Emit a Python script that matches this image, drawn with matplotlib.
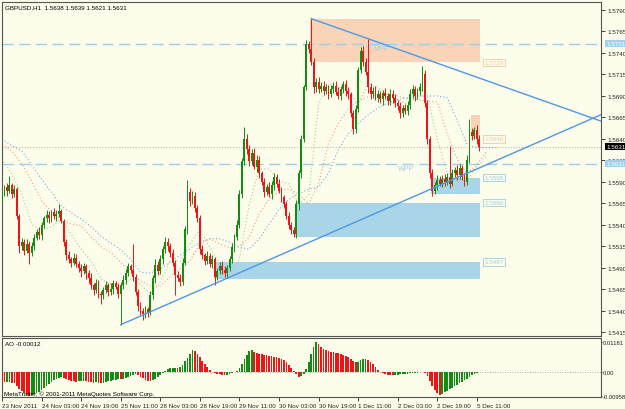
import numpy as np
import matplotlib
matplotlib.use("Agg")
import matplotlib.pyplot as plt
from matplotlib.patches import Rectangle

# hourly GBPUSD bars, prices in pips above 1.5400
first_open = 172
closes = [
    178, 184, 180, 186, 176, 182, 150, 115, 120, 110, 118, 108, 116, 125, 132, 128, 140, 148, 152, 148,
    155, 150, 153, 156, 145, 120, 105, 100, 96, 102, 95, 90, 86, 92, 84, 78, 70, 64, 72, 60,
    58, 64, 70, 62, 66, 72, 68, 60, 70, 76, 84, 92, 88, 80, 62, 46, 40, 36, 42, 38,
    58, 78, 94, 86, 100, 112, 120, 116, 108, 96, 82, 78, 74, 96, 135, 178, 168, 174, 160, 148,
    112, 105, 98, 104, 95, 100, 80, 86, 92, 88, 84, 90, 100, 114, 126, 140, 176, 214, 240, 228,
    214, 224, 208, 216, 200, 190, 178, 184, 176, 186, 196, 188, 180, 172, 164, 150, 140, 134, 130, 164,
    200, 240, 300, 350, 345, 330, 300, 306, 298, 302, 296, 300, 292, 298, 302, 295, 290, 298, 304, 296,
    292, 270, 252, 275, 320, 342, 330, 318, 300, 292, 296, 288, 292, 286, 294, 290, 284, 292, 288, 282,
    278, 270, 276, 272, 280, 292, 298, 290, 296, 300, 316, 282, 240, 200, 180, 186, 192, 188, 194, 190,
    196, 188, 200, 204, 198, 206, 196, 190, 215, 248, 244, 250, 240, 231,
]
up_wick = [
    4, 3, 5, 11, 3, 4, 2, 3, 5, 4, 6, 3, 4, 5, 3, 6, 4, 3, 5, 4,
    3, 5, 4, 8, 3, 2, 4, 5, 3, 6, 4, 3, 5, 4, 3, 4, 6, 3, 5, 4,
    3, 4, 5, 3, 6, 4, 3, 5, 4, 6, 5, 4, 3, 30, 3, 4, 5, 3, 4, 3,
    5, 4, 6, 4, 5, 4, 6, 5, 3, 4, 3, 4, 5, 6, 4, 14, 5, 6, 4, 3,
    4, 5, 3, 6, 4, 5, 3, 4, 5, 6, 4, 3, 4, 5, 4, 6, 5, 4, 14, 6,
    5, 4, 6, 5, 4, 3, 5, 4, 6, 5, 4, 3, 5, 4, 3, 4, 5, 3, 4, 5,
    4, 5, 3, 5, 4, 35, 4, 5, 6, 4, 5, 4, 3, 5, 4, 6, 5, 4, 3, 5,
    4, 3, 4, 5, 4, 5, 6, 4, 38, 5, 4, 6, 5, 4, 3, 5, 4, 6, 5, 4,
    3, 5, 4, 5, 4, 6, 5, 4, 3, 5, 9, 4, 3, 4, 5, 4, 6, 5, 4, 5,
    4, 36, 5, 4, 6, 5, 4, 5, 6, 15, 5, 4, 6, 5,
]
down_wick = [
    5, 4, 6, 3, 5, 4, 3, 8, 4, 5, 3, 13, 4, 5, 3, 4, 5, 3, 4, 6,
    4, 3, 5, 4, 3, 5, 6, 4, 5, 3, 4, 5, 6, 3, 7, 5, 4, 6, 3, 5,
    10, 4, 3, 5, 4, 6, 3, 5, 36, 4, 5, 3, 4, 5, 4, 6, 5, 6, 4, 5,
    3, 4, 5, 4, 3, 5, 4, 6, 5, 4, 24, 3, 5, 4, 3, 5, 6, 4, 5, 4,
    6, 4, 5, 3, 4, 5, 10, 4, 3, 5, 4, 6, 3, 4, 5, 4, 3, 5, 4, 6,
    5, 4, 3, 6, 5, 4, 5, 3, 4, 6, 5, 4, 3, 5, 4, 3, 5, 4, 4, 5,
    6, 5, 4, 3, 5, 4, 6, 5, 4, 3, 5, 4, 6, 3, 5, 4, 3, 5, 4, 6,
    5, 4, 6, 5, 4, 3, 5, 4, 6, 5, 4, 3, 5, 4, 6, 3, 5, 4, 6, 5,
    4, 6, 5, 3, 4, 5, 4, 6, 3, 5, 4, 5, 6, 5, 6, 4, 5, 3, 4, 5,
    4, 5, 3, 4, 6, 5, 4, 5, 4, 3, 5, 4, 6, 5,
]

# alligator lines, read every 4 bars (pips above 1.5400)
jaw = [240, 232, 226, 210, 193, 178, 162, 154, 147, 138, 127, 119, 111, 100, 85, 84, 89, 97, 105, 112,
       120, 124, 124, 120, 114, 112, 124, 141, 158, 170, 176, 182, 184, 200, 228, 246, 258, 268, 276, 282,
       286, 288, 290, 290, 290, 288, 262, 234, 230, 230, 230]
teeth = [234, 226, 211, 191, 168, 156, 147, 141, 139, 126, 115, 108, 97, 85, 75, 69, 69, 80, 89, 98,
         118, 124, 118, 114, 115, 126, 153, 170, 179, 182, 176, 164, 188, 235, 258, 275, 284, 289, 292, 292,
         290, 286, 286, 284, 283, 246, 217, 200, 210, 226]
lips = [217, 199, 176, 141, 133, 138, 147, 129, 112, 98, 77, 71, 68, 77, 71, 60, 74, 98, 98, 118,
        135, 114, 95, 86, 100, 164, 205, 205, 191, 188, 164, 175, 280, 305, 300, 298, 280, 305, 300, 292,
        286, 280, 290, 290, 240, 200, 192, 192, 208, 220]

# awesome oscillator, units of 0.0001
ao_vals = [
    -38, -42, -40, -39, -44, -46, -55, -68, -78, -86, -90, -95, -93, -90, -85, -80, -72, -64, -56, -48,
    -40, -34, -28, -24, -22, -25, -30, -33, -36, -38, -39, -38, -37, -36, -38, -40, -42, -44, -42, -44,
    -45, -43, -40, -38, -36, -33, -31, -30, -30, -28, -26, -22, -18, -12, -8, -14, -20, -26, -32, -36,
    -38, -34, -28, -20, -12, -4, 4, 10, 14, 16, 17, 15, 18, 28, 42, 56, 72, 86, 82, 72,
    58, 44, 30, 18, 8, -2, -6, -8, -10, -12, -14, -12, -10, -6, -2, 4, 14, 30, 50, 68,
    82, 86, 80, 76, 72, 70, 68, 66, 64, 62, 60, 58, 56, 52, 48, 40, 28, 14, 2, -10,
    -20, -18, -8, 10, 40, 70, 100, 118, 112, 100, 92, 88, 84, 80, 78, 76, 74, 72, 68, 64,
    60, 52, 44, 38, 40, 46, 50, 52, 48, 40, 30, 18, 6, -2, -6, -10, -12, -13, -14, -13,
    -12, -10, -9, -8, -7, -6, -5, -4, -3, -2, -2, -6, -18, -36, -56, -72, -86, -93, -90, -82,
    -76, -70, -64, -58, -52, -46, -40, -34, -28, -20, -14, -8, -4, -1,
]

time_labels = ["23 Nov 2011", "24 Nov 03:00", "24 Nov 19:00", "25 Nov 11:00", "28 Nov 03:00",
               "28 Nov 19:00", "29 Nov 11:00", "30 Nov 03:00", "30 Nov 19:00", "1 Dec 11:00",
               "2 Dec 03:00", "2 Dec 19:00", "5 Dec 11:00"]

# zones: (first bar, last bar, low, high)
supply_zones = [(125, 193, 1.5729, 1.5780), (190, 193, 1.5640, 1.5668)]
demand_zones = [(174, 193, 1.5576, 1.5595), (119, 193, 1.5526, 1.5566), (86, 193, 1.5477, 1.5497)]
zone_labels = [("1.5729", 1.5729, "peach"), ("1.5640", 1.5640, "peach"), ("1.5595", 1.5595, "blue"),
               ("1.5566", 1.5566, "blue"), ("1.5497", 1.5497, "blue")]

BG = "#fdfdeb"
GREEN = "#128c12"
RED = "#f01414"
PEACH = "#f9d4b6"
LBLUE = "#a9d5e8"
TREND = "#4d98e6"
PIVOT = "#9fcdee"
FS = 4.5

plt.rcParams["font.family"] = ["Liberation Sans", "DejaVu Sans"]

W, H = 625, 410


def box(x0, y0, x1, y1):
    return [x0 / W, 1 - y1 / H, (x1 - x0) / W, (y1 - y0) / H]


fig = plt.figure(figsize=(W / 100, H / 100), dpi=100, facecolor=BG)
ax = fig.add_axes(box(2, 3, 601, 337), facecolor=BG)
ax2 = fig.add_axes(box(2, 339, 601, 398), facecolor=BG, sharex=ax)

idx = np.arange(len(closes))
c = 1.54 + np.array(closes) / 1e4
o = np.r_[1.54 + first_open / 1e4, c[:-1]]
hi = np.maximum(o, c) + np.array(up_wick) / 1e4
lo = np.minimum(o, c) - np.array(down_wick) / 1e4
col = np.where(c >= o, GREEN, RED)

# zones behind everything
for x0, x1, y0, y1 in supply_zones:
    ax.add_patch(Rectangle((x0 - 0.4, y0), x1 - x0 + 0.8, y1 - y0, fc=PEACH, ec="none", zorder=1))
for x0, x1, y0, y1 in demand_zones:
    ax.add_patch(Rectangle((x0 - 0.4, y0), x1 - x0 + 0.8, y1 - y0, fc=LBLUE, ec="none", zorder=1))

# pivot lines and bid line
ax.axhline(1.5751, color=PIVOT, lw=1, ls=(0, (8, 4)), zorder=2)
ax.axhline(1.5611, color=PIVOT, lw=1, ls=(0, (8, 4)), zorder=2)
ax.axhline(1.5631, color="#d4b4a8", lw=0.8, ls=(0, (1, 1.5)), zorder=2)
ax.text(150, 1.57455, "MPP", color=PIVOT, fontsize=FS + 0.5, ha="left", va="center", zorder=2)
ax.text(160, 1.56055, "WPP", color=PIVOT, fontsize=FS + 0.5, ha="left", va="center", zorder=2)

# alligator
step = np.arange(0, 4 * len(jaw), 4)
ax.plot(step, 1.54 + np.array(jaw) / 1e4, color="#7aa6e6", lw=0.8, ls=(0, (1, 2)), zorder=2)
step = np.arange(0, 4 * len(teeth), 4)
ax.plot(step, 1.54 + np.array(teeth) / 1e4, color="#f09a8c", lw=0.8, ls=(0, (1, 2)), zorder=2)
step = np.arange(0, 4 * len(lips), 4)
ax.plot(step, 1.54 + np.array(lips) / 1e4, color="#9fcf98", lw=0.8, ls=(0, (1, 2)), zorder=2)

# candles
ax.vlines(idx, lo, hi, colors=col, lw=0.7, zorder=3)
ax.bar(idx, np.maximum(np.abs(c - o), 0.00002), bottom=np.minimum(o, c), width=0.75,
       color=col, lw=0, zorder=4)

# trend lines
ax.plot([125, 242], [1.5780, 1.5661], color=TREND, lw=1, zorder=5)
ax.plot([48, 242], [1.5424, 1.5668], color=TREND, lw=1, zorder=5)

# zone price labels
for txt, y, kind in zone_labels:
    tc = "#f5c8a8" if kind == "peach" else "#9ccde4"
    ax.text(195, y, txt, color=tc, fontsize=FS, ha="left", va="center", zorder=6,
            bbox=dict(boxstyle="square,pad=0.2", fc=BG, ec=tc, lw=0.6))

ax.set_xlim(0.16, 242.2)
ax.set_ylim(1.54109, 1.57993)
ax.yaxis.tick_right()
ax.set_yticks(np.arange(1.5415, 1.5791, 0.0025))
ax.set_yticklabels(["%.4f" % v for v in np.arange(1.5415, 1.5791, 0.0025)])
ax.tick_params(axis="y", length=3, width=0.6, pad=1.5, labelsize=FS, colors="#222222")
ax.tick_params(axis="x", length=0, labelbottom=False)

yt = ax.get_yaxis_transform()
for txt, y, fc, tc in [("1.5751", 1.5751, "#9fd0f0", "white"),
                       ("1.5611", 1.5611, "#9fd0f0", "white"),
                       ("1.5631", 1.5631, "black", "white")]:
    ax.text(1.0085, y, txt, transform=yt, fontsize=FS, color=tc, ha="left", va="center",
            clip_on=False, zorder=10, bbox=dict(boxstyle="square,pad=0.15", fc=fc, ec="none"))

# AO panel
ao = np.array(ao_vals)
ao_col = [RED] + [GREEN if ao[i] > ao[i - 1] else RED for i in range(1, len(ao))]
ax2.bar(idx, ao, width=0.7, color=ao_col, lw=0, zorder=3)
ax2.axhline(0, color="#909090", lw=0.6, ls=(0, (1, 2)), zorder=2)
ax2.set_ylim(-101, 135)
ax2.yaxis.tick_right()
ax2.set_yticks([118.1, 0, -95.8])
ax2.set_yticklabels(["0.01181", "0.00", "-0.00958"])
ax2.tick_params(axis="y", length=1, width=0.6, pad=0.6, labelsize=4.2, colors="#222222")
ax2.set_xticks(np.arange(0, 16 * len(time_labels), 16))
ax2.set_xticklabels(time_labels)
ax2.tick_params(axis="x", length=3, width=0.6, pad=1.5, labelsize=FS, colors="#222222")
for t in ax2.get_xticklabels():
    t.set_ha("left")

for a in (ax, ax2):
    for s in a.spines.values():
        s.set_color("#555555")
        s.set_linewidth(0.8)

fig.text(5 / W, 1 - 8 / H, "GBPUSD,H1  1.5638 1.5639 1.5621 1.5631", fontsize=FS, va="center")
fig.text(5 / W, 1 - 345 / H, "AO -0.00012", fontsize=FS, va="center")
fig.text(4 / W, 1 - 394 / H, "MetaTrader, \u00a9 2001-2011 MetaQuotes Software Corp.", fontsize=FS, va="center")

fig.savefig("out.png", dpi=100, facecolor=BG)
